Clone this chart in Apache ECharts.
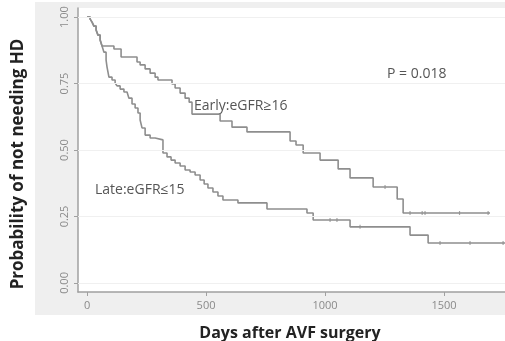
<!DOCTYPE html>
<html><head><meta charset="utf-8">
<script src="https://cdn.jsdelivr.net/npm/echarts@6/dist/echarts.min.js"></script>
<style>html,body{margin:0;padding:0;background:#fff}#c{width:505px;height:341px}</style>
</head><body><div id="c"></div>
<script>
// Kaplan-Meier step points [day, probability]
const earlyDays = [0,13,21,29,38,46,55,63,113,143,210,223,244,265,286,298,357,370,391,412,429,441,559,609,672,853,878,908,979,1055,1105,1202,1303,1328,1693];
const earlyProb = [1.0,0.992,0.981,0.966,0.951,0.932,0.914,0.891,0.880,0.850,0.831,0.820,0.805,0.789,0.774,0.763,0.748,0.733,0.714,0.695,0.680,0.635,0.609,0.586,0.568,0.534,0.519,0.489,0.462,0.429,0.395,0.361,0.316,0.263,0.263];
const lateDays = [0,13,21,29,38,46,55,63,71,80,84,92,105,118,126,139,155,168,176,189,202,214,223,231,244,265,286,319,336,353,370,391,412,433,454,475,492,508,529,550,571,634,756,924,950,1105,1357,1433,1756];
const lateProb = [1.0,0.992,0.981,0.966,0.951,0.932,0.914,0.891,0.868,0.838,0.812,0.774,0.763,0.752,0.741,0.729,0.718,0.711,0.695,0.673,0.658,0.639,0.613,0.583,0.556,0.545,0.538,0.489,0.474,0.462,0.451,0.440,0.425,0.417,0.406,0.387,0.372,0.357,0.342,0.327,0.312,0.301,0.278,0.263,0.237,0.211,0.180,0.150,0.150];
// censor marks
const earlyCensorDays = [1252,1357,1408,1420,1565,1685];
const earlyCensorProb = [0.361,0.263,0.263,0.263,0.263,0.263];
const lateCensorDays = [1021,1050,1147,1483,1609,1748];
const lateCensorProb = [0.237,0.237,0.211,0.150,0.150,0.150];
const xTicks = [0,500,1000,1500];
const yTicks = [0,0.25,0.5,0.75,1];

const zip = (a,b)=>a.map((v,i)=>[v,b[i]]);
const chart = echarts.init(document.getElementById('c'), null, {renderer:'canvas'});
const lineCol = '#8e8e8e';
const font = '"Open Sans", "Liberation Sans", sans-serif';
chart.setOption({
  animation:false,
  backgroundColor:'#fff',
  graphic:[
    {type:'rect', z:-10, shape:{x:35,y:2,width:470,height:313}, style:{fill:'#efefef'}, silent:true},
    {type:'text', left:95, top:183, style:{text:'Late:eGFR\u226415', font:'14px '+font, fill:'#555'}},
    {type:'text', left:194, top:99, style:{text:'Early:eGFR\u226516', font:'14px '+font, fill:'#555'}},
    {type:'text', left:387, top:67, style:{text:'P = 0.018', font:'14px '+font, fill:'#555'}},
    {type:'text', x:18, y:164, rotation:Math.PI/2, style:{text:'Probability of not needing HD', font:'bold 17px '+font, fill:'#222', align:'center', verticalAlign:'middle'}},
    {type:'text', x:290, y:333, style:{text:'Days after AVF surgery', font:'bold 16px '+font, fill:'#222', align:'center', verticalAlign:'middle'}}
  ],
  grid:{left:78, right:0, top:8, bottom:49, show:true, backgroundColor:'#fff', borderWidth:0},
  xAxis:{type:'value', min:-38, max:1756,
    axisLine:{show:true, onZero:false, lineStyle:{color:'#a0a0a0', width:1.5}},
    axisTick:{show:true, customValues:xTicks, length:4, lineStyle:{color:'#a0a0a0'}},
    axisLabel:{customValues:xTicks, color:'#8a8a8a', fontSize:11, fontFamily:font, margin:8,
      formatter:v=>String(v)},
    splitLine:{show:false}},
  yAxis:{type:'value', min:-0.034, max:1.034,
    axisLine:{show:true, onZero:false, lineStyle:{color:'#a0a0a0', width:1.5}},
    axisTick:{show:true, customValues:yTicks, length:4, lineStyle:{color:'#a0a0a0'}},
    axisLabel:{customValues:yTicks, color:'#8a8a8a', fontSize:11, fontFamily:font, rotate:90, margin:8,
      formatter:v=>v.toFixed(2)},
    splitLine:{show:false}},
  series:[
    {type:'line', step:'end', data:zip(earlyDays,earlyProb), showSymbol:false,
     lineStyle:{color:lineCol, width:1.6}, z:3,
     markLine:{silent:true, symbol:'none', label:{show:false}, lineStyle:{color:'#f0f0f0', width:1, type:'solid'},
       data:yTicks.map(v=>({yAxis:v}))}},
    {type:'line', step:'end', data:zip(lateDays,lateProb), showSymbol:false,
     lineStyle:{color:lineCol, width:1.6}, z:3},
    {type:'scatter', data:zip(earlyCensorDays,earlyCensorProb).concat(zip(lateCensorDays,lateCensorProb)),
     symbol:'rect', symbolSize:[1.2,4], itemStyle:{color:lineCol}, z:4}
  ]
});
</script></body></html>
